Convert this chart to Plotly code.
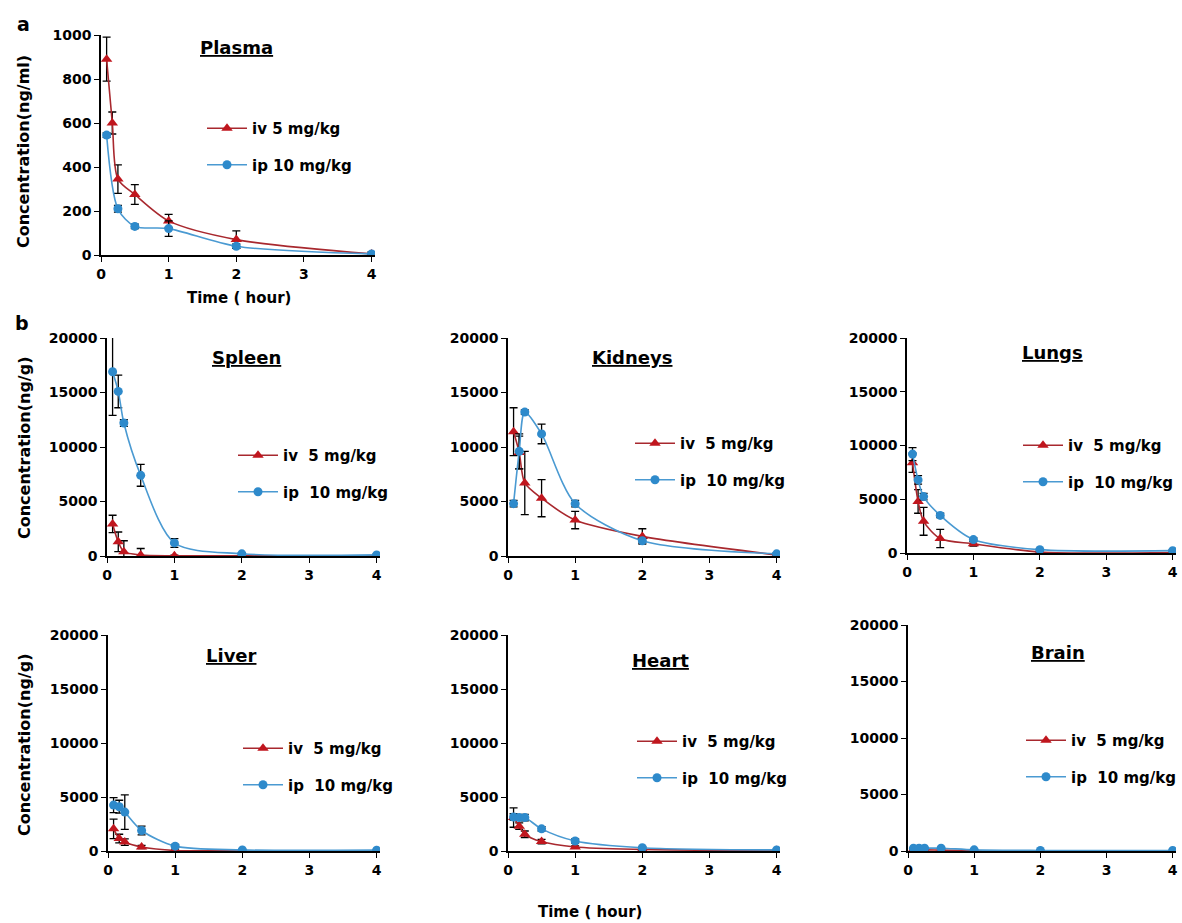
import plotly.graph_objects as go

W, H = 1182, 923

# ---------------- data ----------------
time_points = [0.083, 0.167, 0.25, 0.5, 1, 2, 4]
time_plasma_ip = [0.083, 0.25, 0.5, 1, 2, 4]
x_ticks = [0, 1, 2, 3, 4]

plasma_iv = [890, 600, 345, 275, 155, 70, 5]
plasma_iv_err = [100, 50, 65, 45, 30, 40, 10]
plasma_ip = [545, 210, 130, 120, 40, 5]
plasma_ip_err = [10, 15, 10, 35, 10, 5]

spleen_iv = [2940, 1300, 400, 90, 20, 10, 10]
spleen_iv_err = [800, 900, 1000, 600, 50, 50, 50]
spleen_ip = [16900, 15100, 12200, 7400, 1200, 200, 100]
spleen_ip_err = [4000, 1500, 300, 1000, 400, 100, 100]

kidneys_iv = [11400, 9500, 6700, 5300, 3300, 1800, 100]
kidneys_iv_err = [2200, 1500, 2900, 1700, 800, 700, 100]
kidneys_ip = [4800, 9600, 13200, 11200, 4800, 1400, 200]
kidneys_ip_err = [300, 1600, 200, 900, 300, 200, 100]

lungs_iv = [8400, 4800, 2950, 1350, 850, 100, 50]
lungs_iv_err = [900, 1100, 1300, 850, 200, 50, 50]
lungs_ip = [9200, 6800, 5250, 3500, 1250, 310, 220]
lungs_ip_err = [600, 400, 300, 200, 150, 100, 100]

liver_iv = [2050, 1150, 830, 370, 50, 30, 20]
liver_iv_err = [900, 400, 300, 150, 50, 30, 20]
liver_ip = [4250, 4100, 3600, 1900, 450, 100, 80]
liver_ip_err = [700, 600, 1600, 400, 150, 50, 50]

heart_iv = [3100, 2300, 1550, 870, 370, 150, 50]
heart_iv_err = [900, 300, 300, 200, 100, 50, 30]
heart_ip = [3150, 3100, 3100, 2050, 930, 300, 100]
heart_ip_err = [300, 200, 300, 200, 200, 80, 50]

brain_iv = [150, 120, 100, 80, 20, 10, 10]
brain_iv_err = [50, 40, 30, 30, 10, 10, 10]
brain_ip = [250, 250, 250, 250, 100, 50, 50]
brain_ip_err = [50, 50, 50, 50, 30, 20, 20]

# ---------------- styling ----------------
FONT = "DejaVu Sans"
RED_M = "#C0161E"
RED_L = "#A8282E"
BLUE_M = "#2E8ACB"
BLUE_L = "#4A9AD2"

# name, iv, iv_err, ip, ip_err, ip_time, px_left, px_right, px_top, px_bottom, ymax, dtick,
# title (x,y), legend (x,y), iv label, ip label
panels = [
    ("Plasma", plasma_iv, plasma_iv_err, plasma_ip, plasma_ip_err, time_plasma_ip,
     101, 375, 35, 255, 1000, 200, (236, 47), (202, 112), "iv 5 mg/kg", "ip 10 mg/kg"),
    ("Spleen", spleen_iv, spleen_iv_err, spleen_ip, spleen_ip_err, time_points,
     107, 380, 338, 556, 20000, 5000, (246, 357), (233, 439), "iv&nbsp; 5 mg/kg", "ip&nbsp; 10 mg/kg"),
    ("Kidneys", kidneys_iv, kidneys_iv_err, kidneys_ip, kidneys_ip_err, time_points,
     508, 780, 338, 556, 20000, 5000, (632, 357), (630, 427), "iv&nbsp; 5 mg/kg", "ip&nbsp; 10 mg/kg"),
    ("Lungs", lungs_iv, lungs_iv_err, lungs_ip, lungs_ip_err, time_points,
     907, 1176, 338, 553, 20000, 5000, (1052, 353), (1018, 429), "iv&nbsp; 5 mg/kg", "ip&nbsp; 10 mg/kg"),
    ("Liver", liver_iv, liver_iv_err, liver_ip, liver_ip_err, time_points,
     108, 380, 635, 851, 20000, 5000, (232, 655), (238, 732), "iv&nbsp; 5 mg/kg", "ip&nbsp; 10 mg/kg"),
    ("Heart", heart_iv, heart_iv_err, heart_ip, heart_ip_err, time_points,
     508, 780, 635, 851, 20000, 5000, (660, 660), (632, 725), "iv&nbsp; 5 mg/kg", "ip&nbsp; 10 mg/kg"),
    ("Brain", brain_iv, brain_iv_err, brain_ip, brain_ip_err, time_points,
     908, 1176, 625, 851, 20000, 5000, (1058, 652), (1021, 724), "iv&nbsp; 5 mg/kg", "ip&nbsp; 10 mg/kg"),
]

fig = go.Figure()
layout = {}
annotations = []

for i, (name, iv, iv_err, ip, ip_err, ip_t, pl, pr, pt, pb, ymax, dtick,
        tpos, lpos, iv_lab, ip_lab) in enumerate(panels):
    n = i + 1
    xa = "x" if n == 1 else f"x{n}"
    ya = "y" if n == 1 else f"y{n}"
    xkey = "xaxis" if n == 1 else f"xaxis{n}"
    ykey = "yaxis" if n == 1 else f"yaxis{n}"
    lkey = "legend" if n == 1 else f"legend{n}"

    fig.add_trace(go.Scatter(
        x=time_points, y=iv, mode="lines+markers", name=iv_lab,
        line=dict(shape="spline", smoothing=0.8, color=RED_L, width=1.6),
        marker=dict(symbol="triangle-up", size=10, color=RED_M),
        error_y=dict(type="data", array=iv_err, color="black", thickness=1.3, width=4),
        xaxis=xa, yaxis=ya, legend=lkey, legendgroup=f"iv{n}"))
    fig.add_trace(go.Scatter(
        x=ip_t, y=ip, mode="lines+markers", name=ip_lab,
        line=dict(shape="spline", smoothing=0.8, color=BLUE_L, width=1.6),
        marker=dict(symbol="circle", size=9, color=BLUE_M),
        error_y=dict(type="data", array=ip_err, color="black", thickness=1.3, width=4),
        xaxis=xa, yaxis=ya, legend=lkey, legendgroup=f"ip{n}"))

    layout[xkey] = dict(
        domain=[pl / W, pr / W], range=[0, 4.05], anchor=ya,
        tickvals=x_ticks, showline=True, linecolor="black", linewidth=1.5,
        ticks="outside", ticklen=5, tickcolor="black", tickwidth=1.3,
        showgrid=False, zeroline=False, automargin=False,
        tickfont=dict(family=FONT, size=14, color="black", weight="bold"))
    layout[ykey] = dict(
        domain=[1 - pb / H, 1 - pt / H], range=[0, ymax], anchor=xa,
        dtick=dtick, tickformat="d", showline=True, linecolor="black", linewidth=1.5,
        ticks="outside", ticklen=5, tickcolor="black", tickwidth=1.3,
        showgrid=False, zeroline=False, automargin=False,
        tickfont=dict(family=FONT, size=14, color="black", weight="bold"))
    layout[lkey] = dict(
        x=lpos[0] / W, y=1 - lpos[1] / H, xanchor="left", yanchor="top",
        xref="paper", yref="paper", itemwidth=40, tracegroupgap=14,
        bgcolor="rgba(0,0,0,0)", borderwidth=0,
        font=dict(family=FONT, size=15, color="black", weight="bold"))

    annotations.append(dict(
        x=tpos[0] / W, y=1 - tpos[1] / H, xref="paper", yref="paper",
        text=f"<u>{name}</u>", showarrow=False, xanchor="center", yanchor="middle",
        font=dict(family=FONT, size=18, color="black", weight="bold")))

# y axis titles
for (label, ypix) in [("Concentration(ng/ml)", 152), ("Concentration(ng/g)", 448),
                      ("Concentration(ng/g)", 745)]:
    annotations.append(dict(
        x=24 / W, y=1 - ypix / H, xref="paper", yref="paper", text=label,
        textangle=-90, showarrow=False, xanchor="center", yanchor="middle",
        font=dict(family=FONT, size=16, color="black", weight="bold")))

# x axis titles
for (xpix, ypix) in [(239, 298), (590, 912)]:
    annotations.append(dict(
        x=xpix / W, y=1 - ypix / H, xref="paper", yref="paper", text="Time ( hour)",
        showarrow=False, xanchor="center", yanchor="middle",
        font=dict(family=FONT, size=15, color="black", weight="bold")))

# panel letters
for (letter, xpix, ypix) in [("a", 23, 24), ("b", 22, 323)]:
    annotations.append(dict(
        x=xpix / W, y=1 - ypix / H, xref="paper", yref="paper", text=letter,
        showarrow=False, xanchor="center", yanchor="middle",
        font=dict(family=FONT, size=19, color="black", weight="bold")))

fig.update_layout(
    width=W, height=H, margin=dict(l=0, r=0, t=0, b=0, autoexpand=False),
    paper_bgcolor="white", plot_bgcolor="white",
    annotations=annotations, showlegend=True, **layout)

fig.write_html("out.html", config={"displayModeBar": False},
               post_script="document.body.style.margin='0';document.body.style.overflow='hidden';")
